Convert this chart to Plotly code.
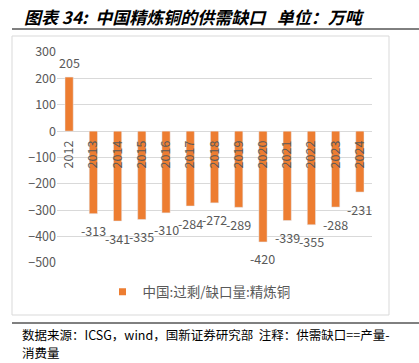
import plotly.graph_objects as go

years = ["2012", "2013", "2014", "2015", "2016", "2017", "2018",
         "2019", "2020", "2021", "2022", "2023", "2024"]
gap = [205, -313, -341, -335, -310, -284, -272, -289, -420, -339, -355, -288, -231]
y_ticks = [300, 200, 100, 0, -100, -200, -300, -400, -500]
series_name = "中国:过剩/缺口量:精炼铜"
title_text = "<b><i>图表 34:  中国精炼铜的供需缺口   单位：万吨</i></b>"
source_line1 = "数据来源：ICSG，wind，国新证券研究部  注释：供需缺口==产量-"
source_line2 = "消费量"

W, H = 419, 363
L, R, T, B = 57, 47, 52, 100
pw, ph = W - L - R, H - T - B
ymin, ymax = -500, 300

def px(x):
    return (x - L) / pw

def py(y):
    return (H - B - y) / ph

GRAY = "#595959"
ORANGE = "#ED7D31"
FONT = "Noto Sans CJK SC"

fig = go.Figure()
fig.add_trace(go.Bar(
    x=years, y=gap, name=series_name, marker=dict(color=ORANGE),
    width=0.34, showlegend=False,
))
# legend entry with a small square swatch
fig.add_trace(go.Scatter(
    x=[None], y=[None], mode="markers", name=series_name,
    marker=dict(symbol="square", size=7, color=ORANGE), showlegend=True,
))

annotations = []
for i, (yr, v) in enumerate(zip(years, gap)):
    annotations.append(dict(
        x=i, y=v, xref="x", yref="y", text=str(v), showarrow=False,
        yshift=15 if v > 0 else -17, font=dict(size=12.5, color=GRAY, family=FONT),
    ))

annotations.append(dict(
    x=px(22), y=py(17), xref="paper", yref="paper", text=title_text,
    showarrow=False, xanchor="left", yanchor="middle",
    font=dict(size=17, color="#000000", family=FONT),
))
for txt, yc in ((source_line1, 334), (source_line2, 352)):
    annotations.append(dict(
        x=px(20), y=py(yc), xref="paper", yref="paper", text=txt,
        showarrow=False, xanchor="left", yanchor="middle", align="left",
        font=dict(size=12.5, color="#000000", family=FONT),
    ))

shapes = [
    dict(type="line", xref="paper", yref="paper", x0=px(12), x1=px(419),
         y0=py(29), y1=py(29), line=dict(color="#000000", width=1)),
    dict(type="rect", xref="paper", yref="paper", x0=px(12), x1=px(389),
         y0=py(36), y1=py(315), line=dict(color="#D9D9D9", width=1)),
    dict(type="line", xref="paper", yref="paper", x0=px(12), x1=px(419),
         y0=py(323), y1=py(323), line=dict(color="#000000", width=1)),
]

fig.update_layout(
    width=W, height=H,
    margin=dict(l=L, r=R, t=T, b=B),
    plot_bgcolor="white", paper_bgcolor="white",
    font=dict(family=FONT, color=GRAY, size=12),
    annotations=annotations, shapes=shapes,
    legend=dict(orientation="h", x=px(199), xanchor="center", y=py(292), yanchor="middle",
                font=dict(size=13.5, color=GRAY, family=FONT), itemwidth=30),
    xaxis=dict(
        type="category", range=[-0.5, 12.5], anchor="free",
        position=(0 - ymin) / (ymax - ymin), showgrid=False, showline=False,
        ticks="", tickangle=-90, ticklabelstandoff=6,
        tickfont=dict(size=12.5, color=GRAY, family=FONT),
    ),
    yaxis=dict(
        range=[ymin, ymax], tickvals=y_ticks, showgrid=True, gridcolor="#D9D9D9",
        gridwidth=1, zeroline=True, zerolinecolor="#D9D9D9", zerolinewidth=1,
        showline=False, ticks="", tickfont=dict(size=12.5, color=GRAY, family=FONT),
    ),
)

fig.write_html("out.html", config={"displayModeBar": False},
               post_script="document.body.style.margin='0';")
